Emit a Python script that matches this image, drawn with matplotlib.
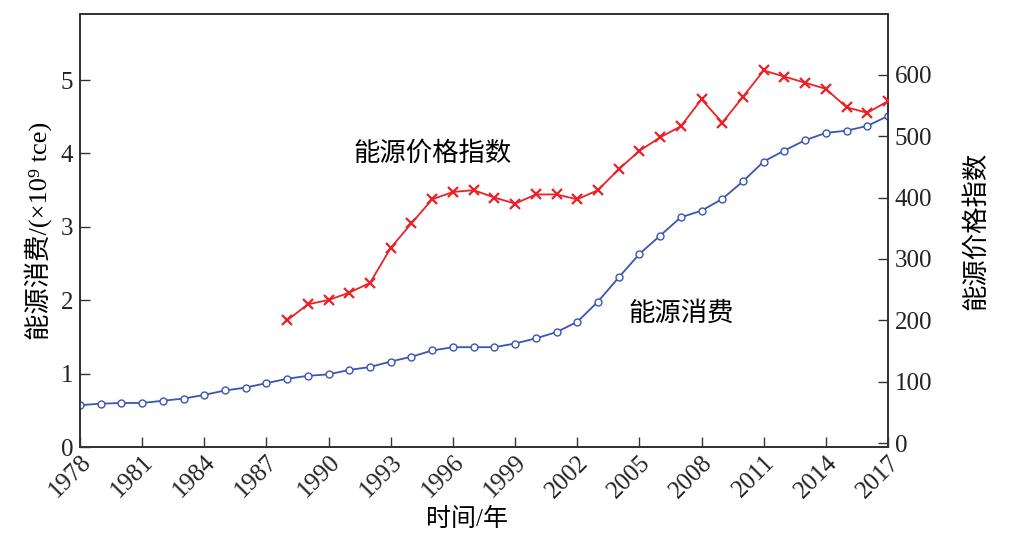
import matplotlib
matplotlib.use("Agg")
from matplotlib import pyplot as plt
import numpy as np

plt.rcParams['font.family'] = ['Liberation Serif', 'Noto Sans CJK SC', 'DejaVu Serif']

# 年份
years = list(range(1978, 2018))
# 能源消费 (×10^9 tce)
xiaofei = [0.57, 0.59, 0.60, 0.60, 0.63, 0.66, 0.71, 0.77, 0.81, 0.87,
           0.93, 0.97, 0.99, 1.05, 1.09, 1.165, 1.23, 1.315, 1.36, 1.36,
           1.36, 1.41, 1.48, 1.565, 1.705, 1.98, 2.31, 2.63, 2.88, 3.13,
           3.22, 3.38, 3.62, 3.89, 4.04, 4.18, 4.28, 4.31, 4.375, 4.51]
# 能源价格指数 (1988起)
jiage_years = list(range(1988, 2018))
jiage = [200, 226, 233, 245, 261, 318, 358, 397, 409, 412,
         400, 390, 405, 405, 397, 412, 446, 476, 498, 516,
         560, 522, 564, 607, 597, 587, 577, 547, 538, 557]
xticks = list(range(1978, 2018, 3))

fig = plt.figure(figsize=(10.14, 5.4), dpi=100)
ax = fig.add_axes([80 / 1014, 1 - 447 / 540, 808 / 1014, 433 / 540])
ax2 = ax.twinx()

ax.plot(years, xiaofei, color='#3a55b4', lw=1.3, marker='o', ms=5,
        mfc='white', mec='#3a55b4', mew=1.0, zorder=3)
ax2.plot(jiage_years, jiage, color='#ec2027', lw=1.3, marker='x', ms=7,
         mew=1.6, zorder=3)

ax.set_xlim(1978, 2017)
ax.set_ylim(0, 5.9)
ax2.set_ylim(-6.5, 699)
ax.set_xticks(xticks)
ax.set_xticklabels([str(y) for y in xticks], rotation=45, ha='right',
                   va='top', rotation_mode='anchor')
ax.set_yticks([0, 1, 2, 3, 4, 5])
ax2.set_yticks([0, 100, 200, 300, 400, 500, 600])

for a in (ax, ax2):
    for s in a.spines.values():
        s.set_color('#333333')
        s.set_linewidth(1.3)
    a.tick_params(direction='in', length=7, width=1.0, colors='#333333',
                  labelsize=18, labelcolor='#222222', pad=5)
ax.tick_params(axis='x', pad=3)

ax.set_ylabel('能源消费/(×10⁹ tce)', fontsize=19, labelpad=6)
ax2.set_ylabel('能源价格指数', fontsize=19, labelpad=22)
ax.set_xlabel('时间/年', fontsize=18)
ax.xaxis.set_label_coords(0.479, -0.14)

ax.text(1995.0, 4.0, '能源价格指数', fontsize=19, ha='center', va='center')
ax.text(2007.0, 1.82, '能源消费', fontsize=19, ha='center', va='center')

fig.savefig('out.png', dpi=100)
